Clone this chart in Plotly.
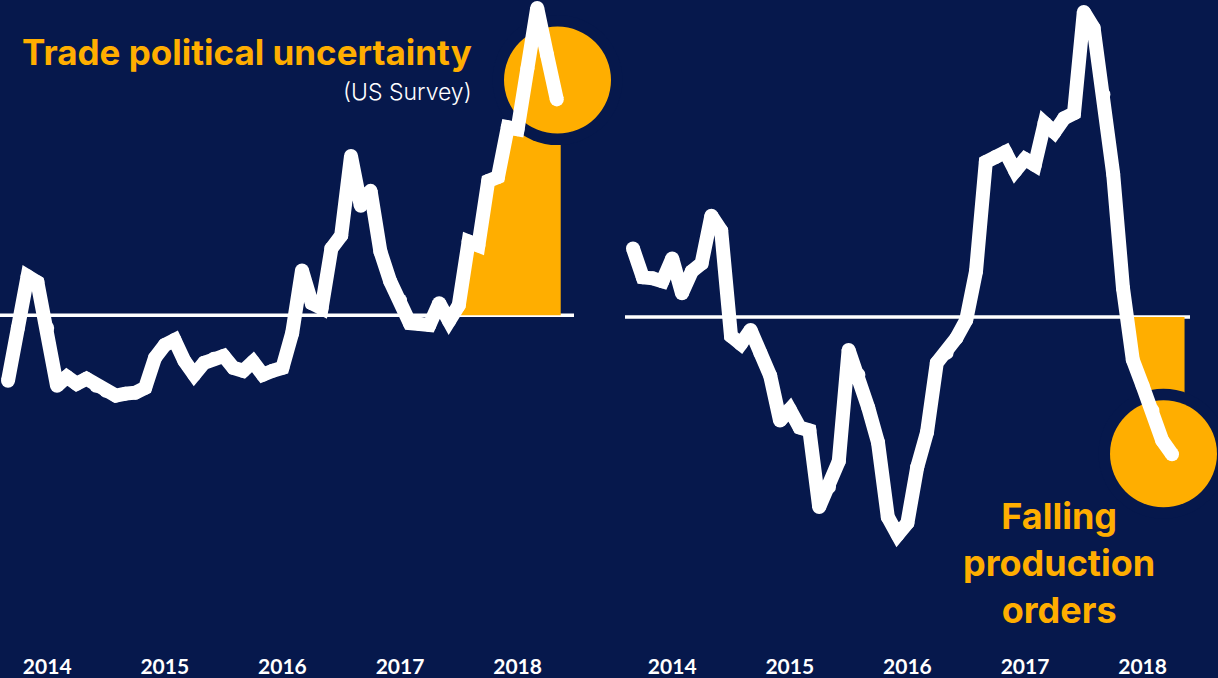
import plotly.graph_objects as go

# Monthly readings, Sep 2013 onward (index 0 = Sep 2013)
uncertainty = [
    -0.66, -0.13, 0.39, 0.33, -0.13, -0.71, -0.62, -0.69, -0.64, -0.71,
    -0.76, -0.81, -0.79, -0.78, -0.73, -0.43, -0.30, -0.25, -0.46, -0.60,
    -0.48, -0.44, -0.41, -0.53, -0.56, -0.47, -0.60, -0.56, -0.53, -0.18,
    0.45, 0.12, 0.07, 0.67, 0.80, 1.60, 1.10, 1.25, 0.64, 0.34,
    0.15, -0.08, -0.09, -0.10, 0.12, -0.06, 0.10, 0.74, 0.70, 1.35,
    1.39, 1.89, 1.87, 2.48, 3.09, 2.62, 2.17,
]
orders = [
    0.69, 0.40, 0.39, 0.36, 0.59, 0.24, 0.46, 0.54, 1.02, 0.87,
    -0.19, -0.27, -0.13, -0.36, -0.59, -1.04, -0.93, -1.11, -1.14, -1.91,
    -1.71, -1.45, -0.33, -0.58, -0.91, -1.26, -2.01, -2.19, -2.07, -1.51,
    -1.16, -0.46, -0.36, -0.21, -0.03, 0.46, 1.56, 1.61, 1.66, 1.47,
    1.59, 1.53, 1.95, 1.86, 2.00, 2.05, 3.07, 2.91, 2.24, 1.44,
    0.29, -0.43, -0.69, -0.94, -1.24, -1.38,
]
year_ticks = [4, 16, 28, 40, 52]          # January of each year
year_labels = ["2014", "2015", "2016", "2017", "2018"]

BG = "#06184C"
GOLD = "#FFAE00"
W, H = 1218, 678
PX_PER_MONTH = 9.8
LINE_W = 14


def last_run_path(vals, positive, ext):
    """Closed path between zero and the final run of the series on one side."""
    n = len(vals)
    k = n - 1
    while k > 0 and ((vals[k - 1] > 0) == positive):
        k -= 1
    a, b = vals[k - 1], vals[k]
    xc = (k - 1) + a / (a - b)
    pts = [(xc, 0.0)] + [(i, vals[i]) for i in range(k, n)]
    pts += [(n - 1 + ext, vals[-1]), (n - 1 + ext, 0.0)]
    return "M " + " L ".join(f"{x:.3f},{y:.3f}" for x, y in pts) + " Z"


def circle(xref, yref, x, y, dx, dy, r, color):
    return dict(type="circle", layer="below", xref=xref, yref=yref,
                xsizemode="pixel", ysizemode="pixel", xanchor=x, yanchor=y,
                x0=dx - r, x1=dx + r, y0=dy - r, y1=dy + r,
                fillcolor=color, line=dict(width=0))


fig = go.Figure()

for vals, xa, ya in [(uncertainty, "x", "y"), (orders, "x2", "y2")]:
    fig.add_trace(go.Scatter(
        x=list(range(len(vals))), y=vals, xaxis=xa, yaxis=ya,
        mode="lines+markers",
        line=dict(color="white", width=LINE_W),
        marker=dict(color="white", size=LINE_W),
        hoverinfo="skip", showlegend=False,
    ))

nL, nR = len(uncertainty), len(orders)
shapes = [
    dict(type="path", layer="below", xref="x", yref="y",
         path=last_run_path(uncertainty, True, 0.4),
         fillcolor=GOLD, line=dict(width=0)),
    dict(type="path", layer="below", xref="x2", yref="y2",
         path=last_run_path(orders, False, 1.28),
         fillcolor=GOLD, line=dict(width=0)),
    circle("x", "y", nL - 1, uncertainty[-1], 0.7, 19.3, 65, BG),
    circle("x2", "y2", nR - 1, orders[-1], -8.5, 0.5, 65, BG),
    circle("x", "y", nL - 1, uncertainty[-1], 0.7, 19.3, 53.5, GOLD),
    circle("x2", "y2", nR - 1, orders[-1], -8.5, 0.5, 53.5, GOLD),
    dict(type="line", layer="below", xref="paper", yref="y",
         x0=0, x1=574 / W, y0=0, y1=0, line=dict(color="white", width=3.5)),
    dict(type="line", layer="below", xref="paper", yref="y2",
         x0=625 / W, x1=1190 / W, y0=0, y1=0, line=dict(color="white", width=3.5)),
]

tick_font = dict(family="Lato", size=21, color="white", weight="bold")
axis_common = dict(showgrid=False, zeroline=False, showline=False, ticks="",
                   tickmode="array", tickvals=year_ticks, ticktext=year_labels,
                   ticklabelposition="inside", ticklabelstandoff=-7,
                   tickfont=tick_font, domain=[0, 1])

fig.update_layout(
    width=W, height=H,
    margin=dict(l=0, r=0, t=0, b=0),
    paper_bgcolor=BG, plot_bgcolor=BG,
    xaxis=dict(range=[-8 / PX_PER_MONTH, (W - 8) / PX_PER_MONTH], anchor="y",
               **axis_common),
    xaxis2=dict(range=[-633 / PX_PER_MONTH, (W - 633) / PX_PER_MONTH],
                anchor="y2", overlaying="x", **axis_common),
    yaxis=dict(range=[-3.61, 3.17], visible=False),
    yaxis2=dict(range=[-3.59, 3.19], visible=False, overlaying="y"),
    shapes=shapes,
    annotations=[
        dict(text="Trade political uncertainty", xref="paper", yref="paper",
             x=474 / W, y=1 - 52 / H, xanchor="right", yanchor="middle",
             showarrow=False,
             font=dict(family="Inter", size=35, color=GOLD, weight="bold")),
        dict(text="(US Survey)", xref="paper", yref="paper",
             x=474 / W, y=1 - 93 / H, xanchor="right", yanchor="middle",
             showarrow=False,
             font=dict(family="Inter", size=23, color="white", weight=300)),
        dict(text="Falling<br>production<br>orders", xref="paper", yref="paper",
             x=1059 / W, y=1 - 566 / H, xanchor="center", yanchor="middle",
             align="center", showarrow=False,
             font=dict(family="Inter", size=36, color=GOLD, weight="bold")),
    ],
)

fig.write_html("out.html")
